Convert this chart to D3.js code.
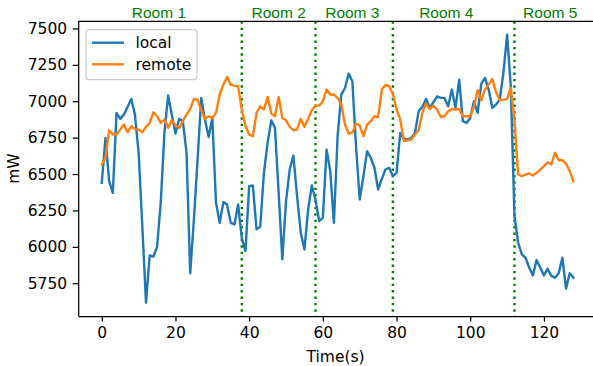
<!DOCTYPE html>
<html>
<head>
<meta charset="utf-8">
<script src="https://cdn.jsdelivr.net/npm/d3@7"></script>
<style>
  body { margin: 0; background: #fff; }
  svg { display: block; }
  text { font-family: "DejaVu Sans", sans-serif; }
</style>
</head>
<body>
<div id="chart"></div>
<script>
// power readings, one per second
const local = [
  6440, 6748, 6451, 6371, 6920, 6879, 6908, 6961, 7016, 6908,
  6646, 6143, 5617, 5941, 5932, 6000, 6302, 6783, 7039, 6908,
  6778, 6879, 6863, 6646, 5818, 6188, 6600, 7023, 6874, 6755,
  6885, 6302, 6165, 6307, 6291, 6165, 6154, 6291, 6060, 5971,
  6417, 6421, 6120, 6138, 6508, 6714, 6869, 6817, 6371, 5914,
  6314, 6531, 6627, 6348, 6097, 5982, 6257, 6421, 6325, 6177,
  6200, 6668, 6520, 6165, 6760, 7046, 7091, 7190, 7137, 6691,
  6325, 6485, 6657, 6611, 6543, 6394, 6467, 6531, 6543, 6485,
  6508, 6783, 6742, 6737, 6748, 6783, 6931, 6961, 7016, 6954,
  6993, 7034, 7023, 7023, 6965, 7080, 6954, 7148, 6863, 6851,
  6885, 7000, 6920, 7121, 7160, 7080, 6954, 6977, 7011, 7194,
  7457, 7103, 6211, 6028, 5948, 5925, 5857, 5804, 5910, 5857,
  5804, 5850, 5800, 5788, 5818, 5925, 5713, 5818, 5788
];
const remote = [
  6565, 6611, 6801, 6771, 6771, 6805, 6840, 6787, 6828, 6810,
  6805, 6787, 6824, 6851, 6924, 6897, 6851, 6874, 6817, 6869,
  6833, 6817, 6863, 6908, 6947, 7016, 7011, 6938, 6879, 6897,
  6885, 6920, 7046, 7114, 7167, 7112, 7107, 7103, 6940, 6830,
  6771, 6760, 6920, 6965, 6943, 7030, 6915, 6897, 7030, 6885,
  6869, 6824, 6801, 6805, 6879, 6824, 6879, 6938, 6970, 6970,
  7000, 7080, 7046, 7046, 7023, 6977, 6840, 6778, 6783, 6847,
  6833, 6760, 6840, 6863, 6897, 6892, 7080, 7112, 7103, 7050,
  6943, 6874, 6726, 6732, 6737, 6771, 6801, 6920, 6984, 6947,
  6970, 6943, 6892, 6897, 6931, 6947, 6943, 6947, 6897, 6897,
  6897, 6961, 7075, 7007, 7080, 7114, 7153, 7061, 7007, 7011,
  7016, 7091, 6874, 6497, 6485, 6497, 6504, 6490, 6508, 6531,
  6554, 6581, 6566, 6646, 6595, 6595, 6572, 6520, 6451
];
const seriesNames = ['local', 'remote'];
const seriesColors = ['#1f77b4', '#ff7f0e'];
// room changes (s) and where each room label sits
const roomBounds = [38, 58, 79, 112];
const roomNames = ['Room 1', 'Room 2', 'Room 3', 'Room 4', 'Room 5'];
const roomLabelX = [15.5, 48, 68, 93.5, 121.7];
const xTicks = [0, 20, 40, 60, 80, 100, 120];
const yTicks = [5750, 6000, 6250, 6500, 6750, 7000, 7250, 7500];

const width = 593, height = 366;
const margin = { top: 21.3, right: -4, bottom: 50, left: 78.2 };
const fontSize = 15.5;

const svg = d3.select('#chart').append('svg')
  .attr('width', width).attr('height', height);

const n = local.length;
const allVals = local.concat(remote);
const yMin = d3.min(allVals), yMax = d3.max(allVals);
const xPad = (n - 1) * 0.05, yPad = (yMax - yMin) * 0.05;

const x = d3.scaleLinear()
  .domain([-xPad, n - 1 + xPad])
  .range([margin.left, width - margin.right]);
const y = d3.scaleLinear()
  .domain([yMin - yPad, yMax + yPad])
  .range([height - margin.bottom, margin.top]);

svg.append('clipPath').attr('id', 'plotClip')
  .append('rect')
  .attr('x', margin.left).attr('y', margin.top)
  .attr('width', width - margin.right - margin.left)
  .attr('height', height - margin.bottom - margin.top);

const plot = svg.append('g').attr('clip-path', 'url(#plotClip)');

// room boundaries
plot.selectAll('line.room').data(roomBounds).enter().append('line')
  .attr('class', 'room')
  .attr('x1', d => x(d)).attr('x2', d => x(d))
  .attr('y1', margin.top).attr('y2', height - margin.bottom)
  .attr('stroke', 'green')
  .attr('stroke-width', 2.4)
  .attr('stroke-dasharray', '2.4,4');

const line = d3.line()
  .x((d, i) => x(i))
  .y(d => y(d));

[local, remote].forEach((data, k) => {
  plot.append('path')
    .datum(data)
    .attr('fill', 'none')
    .attr('stroke', seriesColors[k])
    .attr('stroke-width', 2.4)
    .attr('stroke-linejoin', 'round')
    .attr('stroke-linecap', 'square')
    .attr('d', line);
});

// axes
const xAxis = svg.append('g')
  .attr('transform', 'translate(0,' + (height - margin.bottom) + ')')
  .call(d3.axisBottom(x).tickValues(xTicks).tickSize(5.5).tickPadding(5.5).tickSizeOuter(0));
const yAxis = svg.append('g')
  .attr('transform', 'translate(' + margin.left + ',0)')
  .call(d3.axisLeft(y).tickValues(yTicks).tickFormat(d3.format('d')).tickSize(5.5).tickPadding(5.5).tickSizeOuter(0));

[xAxis, yAxis].forEach(g => {
  g.selectAll('.domain').attr('stroke', '#000').attr('stroke-width', 1.25);
  g.selectAll('.tick line').attr('stroke', '#000').attr('stroke-width', 1.25);
  g.selectAll('.tick text')
    .attr('fill', '#000')
    .style('font-size', fontSize + 'px')
    .style('font-family', '"DejaVu Sans", sans-serif');
});

// top spine
svg.append('line')
  .attr('x1', margin.left).attr('x2', width - margin.right)
  .attr('y1', margin.top).attr('y2', margin.top)
  .attr('stroke', '#000').attr('stroke-width', 1.25);

// axis titles
svg.append('text')
  .attr('x', (margin.left + width - margin.right) / 2 - 2)
  .attr('y', 362)
  .attr('text-anchor', 'middle')
  .style('font-size', fontSize + 'px')
  .text('Time(s)');
svg.append('text')
  .attr('transform', 'translate(19,' + (margin.top + height - margin.bottom) / 2 + ') rotate(-90)')
  .attr('text-anchor', 'middle')
  .style('font-size', fontSize + 'px')
  .text('mW');

// room labels
svg.selectAll('text.roomLabel').data(roomNames).enter().append('text')
  .attr('class', 'roomLabel')
  .attr('x', (d, i) => x(roomLabelX[i]))
  .attr('y', 17.5)
  .attr('text-anchor', 'middle')
  .attr('fill', 'green')
  .style('font-size', '15.5px')
  .style('font-family', '"Liberation Sans", sans-serif')
  .text(d => d);

// legend
const legend = svg.append('g');
legend.append('rect')
  .attr('x', 86).attr('y', 29.5)
  .attr('width', 111).attr('height', 50)
  .attr('rx', 3)
  .attr('fill', 'rgba(255,255,255,0.8)')
  .attr('stroke', '#cccccc')
  .attr('stroke-width', 1.25);
seriesNames.forEach((name, i) => {
  const cy = 42.7 + i * 21.6;
  legend.append('line')
    .attr('x1', 92).attr('x2', 124)
    .attr('y1', cy).attr('y2', cy)
    .attr('stroke', seriesColors[i])
    .attr('stroke-width', 2.4);
  legend.append('text')
    .attr('x', 135.5).attr('y', cy + 5.5)
    .style('font-size', fontSize + 'px')
    .text(name);
});
</script>
</body>
</html>
